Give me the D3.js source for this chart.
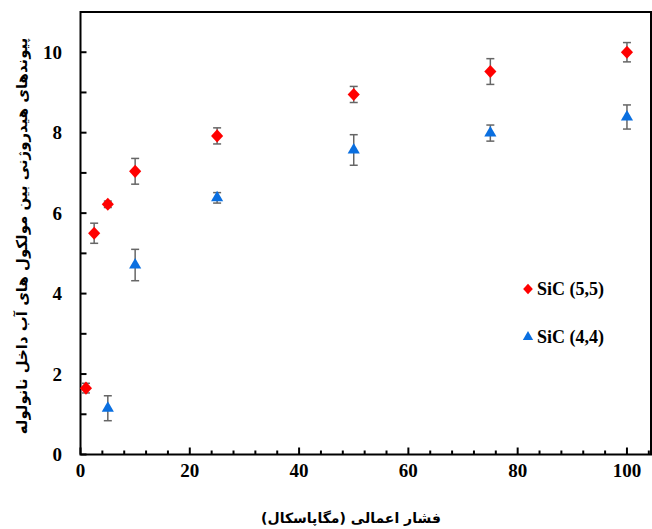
<!DOCTYPE html>
<html>
<head>
<meta charset="utf-8">
<script src="https://cdn.jsdelivr.net/npm/d3@7"></script>
<style>
  body { margin: 0; background: #fff; }
  svg { display: block; }
</style>
</head>
<body>
<div id="chart"></div>
<script>
// data
const pressure55 = [1, 2.5, 5, 10, 25, 50, 75, 100];
const bonds55 = [1.65, 5.5, 6.22, 7.04, 7.92, 8.95, 9.52, 10.0];
const err55 = [0.12, 0.25, 0.08, 0.32, 0.2, 0.2, 0.32, 0.24];

const pressure44 = [5, 10, 25, 50, 75, 100];
const bonds44 = [1.15, 4.71, 6.38, 7.57, 7.99, 8.39];
const err44 = [0.31, 0.39, 0.13, 0.38, 0.2, 0.3];

const xTicks = [0, 20, 40, 60, 80, 100];
const yTicks = [0, 2, 4, 6, 8, 10];
const seriesNames = ["SiC (5,5)", "SiC (4,4)"];
const xTitle = "فشار اعمالی (مگاپاسکال)";
const yTitle = "پیوندهای هیدروژنی بین مولکول های آب داخل نانولوله";

const width = 652, height = 529;
const margin = { top: 12, right: 1, bottom: 74.5, left: 80.5 };

const svg = d3.select("#chart").append("svg")
  .attr("width", width)
  .attr("height", height);

const x = d3.scaleLinear([0, 104.4], [margin.left, width - margin.right]);
const y = d3.scaleLinear([0, 11], [height - margin.bottom, margin.top]);

const red = "#ff0000", blue = "#0a6fe0";

// frame (left, bottom, top, right)
svg.append("rect")
  .attr("x", x(0)).attr("y", y(11))
  .attr("width", x(104.4) - x(0))
  .attr("height", y(0) - y(11))
  .attr("fill", "none")
  .attr("stroke", "#000")
  .attr("stroke-width", 2);

// y ticks, every 1 inside, labels every 2
svg.append("g").selectAll("line")
  .data(d3.range(0, 11))
  .join("line")
  .attr("x1", x(0)).attr("x2", x(0) + 6)
  .attr("y1", d => y(d)).attr("y2", d => y(d))
  .attr("stroke", "#000").attr("stroke-width", 2);

svg.append("g").selectAll("text")
  .data(yTicks)
  .join("text")
  .attr("x", 62)
  .attr("y", d => y(d))
  .attr("dy", "0.35em")
  .attr("text-anchor", "end")
  .attr("font-family", "Liberation Serif")
  .attr("font-weight", "bold")
  .attr("font-size", 19)
  .text(d => d);

// x ticks, minor every 4, major every 20
svg.append("g").selectAll("line")
  .data(d3.range(0, 105, 4))
  .join("line")
  .attr("x1", d => x(d)).attr("x2", d => x(d))
  .attr("y1", y(0)).attr("y2", d => y(0) - (d % 20 === 0 ? 7 : 4))
  .attr("stroke", "#000").attr("stroke-width", 2);

svg.append("g").selectAll("text")
  .data(xTicks)
  .join("text")
  .attr("x", d => x(d))
  .attr("y", 477)
  .attr("text-anchor", "middle")
  .attr("font-family", "Liberation Serif")
  .attr("font-weight", "bold")
  .attr("font-size", 19)
  .text(d => d);

// axis titles
const xt = svg.append("text")
  .attr("x", 351).attr("y", 523)
  .attr("text-anchor", "middle")
  .attr("direction", "rtl")
  .attr("font-family", "DejaVu Sans")
  .attr("font-weight", "bold")
  .attr("font-size", 15)
  .text(xTitle);
const xl = xt.node().getComputedTextLength();
if (xl > 0) xt.attr("font-size", 15 * 180 / xl);

const yt = svg.append("text")
  .attr("transform", "translate(27,236) rotate(-90)")
  .attr("text-anchor", "middle")
  .attr("direction", "rtl")
  .attr("font-family", "DejaVu Sans")
  .attr("font-weight", "bold")
  .attr("font-size", 14)
  .text(yTitle);
// squeeze font so the title spans like the original
const len = yt.node().getComputedTextLength();
if (len > 0) yt.attr("font-size", 14 * 397 / len);

// error bars
function errorBars(xs, ys, es) {
  const g = svg.append("g").attr("stroke", "#666").attr("stroke-width", 1.5);
  xs.forEach((d, i) => {
    const cx = x(d), top = y(ys[i] + es[i]), bot = y(ys[i] - es[i]);
    g.append("line").attr("x1", cx).attr("x2", cx).attr("y1", top).attr("y2", bot);
    g.append("line").attr("x1", cx - 4).attr("x2", cx + 4).attr("y1", top).attr("y2", top);
    g.append("line").attr("x1", cx - 4).attr("x2", cx + 4).attr("y1", bot).attr("y2", bot);
  });
}
errorBars(pressure55, bonds55, err55);
errorBars(pressure44, bonds44, err44);

// near-square diamond like the spreadsheet marker
const squareDiamond = {
  draw(ctx, size) {
    const rx = Math.sqrt(size / 2) * 0.96, ry = Math.sqrt(size / 2) * 1.04;
    ctx.moveTo(0, -ry); ctx.lineTo(rx, 0); ctx.lineTo(0, ry); ctx.lineTo(-rx, 0); ctx.closePath();
  }
};
const diamond = d3.symbol(squareDiamond, 80);
const triangle = d3.symbol(d3.symbolTriangle, 64);

svg.append("g").selectAll("path")
  .data(pressure55.map((d, i) => [d, bonds55[i]]))
  .join("path")
  .attr("d", diamond)
  .attr("transform", d => `translate(${x(d[0])},${y(d[1])})`)
  .attr("fill", red);

svg.append("g").selectAll("path")
  .data(pressure44.map((d, i) => [d, bonds44[i]]))
  .join("path")
  .attr("d", triangle)
  .attr("transform", d => `translate(${x(d[0])},${y(d[1])})`)
  .attr("fill", blue);

// legend
const legend = svg.append("g");
const items = [
  { name: seriesNames[0], sym: diamond, color: red, yy: 289, sc: "scale(0.8)" },
  { name: seriesNames[1], sym: triangle, color: blue, yy: 337, sc: "scale(0.85)" }
];
items.forEach(it => {
  legend.append("path")
    .attr("d", it.sym)
    .attr("transform", `translate(528,${it.yy}) ${it.sc}`)
    .attr("fill", it.color);
  legend.append("text")
    .attr("x", 537).attr("y", it.yy)
    .attr("dy", "0.35em")
    .attr("font-family", "Liberation Serif")
    .attr("font-weight", "bold")
    .attr("font-size", 18)
    .text(it.name);
});
</script>
</body>
</html>
